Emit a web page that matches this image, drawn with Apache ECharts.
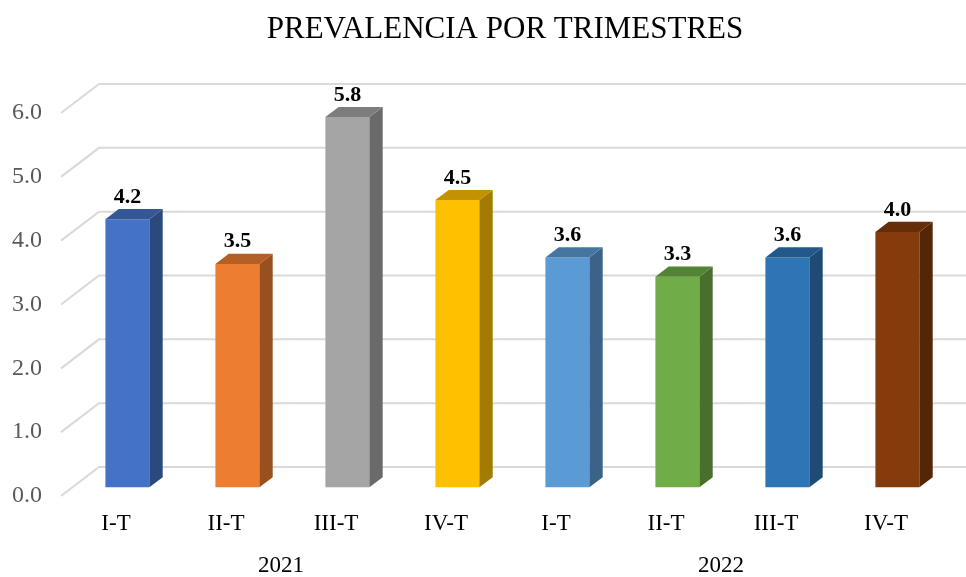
<!DOCTYPE html>
<html lang="es">
<head>
    <meta charset="UTF-8">
    <title>Prevalencia por trimestres</title>
    <style>
        html, body { margin: 0; padding: 0; background: #fff; }
        #main { width: 966px; height: 577px; }
    </style>
</head>
<body>
<div id="main"></div>
<script src="https://cdn.jsdelivr.net/npm/echarts@6/dist/echarts.min.js"></script>
<script>
    // datos del grafico
    var categories = ['I-T', 'II-T', 'III-T', 'IV-T', 'I-T', 'II-T', 'III-T', 'IV-T'];
    var years = ['2021', '2022'];
    var values = [4.2, 3.5, 5.8, 4.5, 3.6, 3.3, 3.6, 4.0];
    var yTicks = [0, 1, 2, 3, 4, 5, 6];
    var barColors = ['#4472C4', '#ED7D31', '#A5A5A5', '#FFC000', '#5B9BD5', '#70AD47', '#2E75B6', '#843C0C'];

    // profundidad del efecto 3D (px)
    var DX = 38, DY = -29;
    var FONT = "'Liberation Serif', 'Times New Roman', serif";

    function shade(hex, f) {
        var n = parseInt(hex.slice(1), 16);
        var r = Math.round(((n >> 16) & 255) * f);
        var g = Math.round(((n >> 8) & 255) * f);
        var b = Math.round((n & 255) * f);
        return 'rgb(' + r + ',' + g + ',' + b + ')';
    }

    var chartDom = document.getElementById('main');
    var myChart = echarts.init(chartDom);
    var option;

    option = {
        animation: false,
        title: {
            text: 'PREVALENCIA POR TRIMESTRES',
            left: 500,
            textAlign: 'center',
            top: 9,
            textStyle: { fontFamily: FONT, fontSize: 31, fontWeight: 'normal', color: '#000' }
        },
        grid: { left: 61, width: 880, top: 113, bottom: 80 },
        xAxis: [
            {
                type: 'category',
                data: categories,
                axisLine: { show: false },
                axisTick: { show: false },
                axisLabel: { fontFamily: FONT, fontSize: 23, color: '#000', margin: 16, interval: 0 }
            },
            {
                type: 'category',
                data: years,
                position: 'bottom',
                offset: 58,
                axisLine: { show: false },
                axisTick: { show: false },
                axisLabel: { fontFamily: FONT, fontSize: 23, color: '#000', margin: 0 }
            }
        ],
        yAxis: {
            type: 'value',
            min: 0,
            max: 6,
            interval: 1,
            splitLine: { show: false },
            axisLine: { show: false },
            axisLabel: {
                fontFamily: FONT, fontSize: 24, color: '#595959', margin: 19,
                padding: [4, 0, 0, 0],
                formatter: function (v) { return v.toFixed(1); }
            }
        },
        series: [
            {
                // lineas de division (pared lateral + fondo)
                type: 'custom',
                z: 1,
                silent: true,
                data: yTicks.map(function (t) { return [0, t]; }),
                renderItem: function (params, api) {
                    var y = api.coord([0, api.value(1)])[1];
                    var x0 = params.coordSys.x;
                    return {
                        type: 'polyline',
                        shape: { points: [[x0, y], [x0 + DX, y + DY], [966, y + DY]] },
                        style: { stroke: '#d9d9d9', lineWidth: 2, fill: null }
                    };
                }
            },
            {
                type: 'custom',
                z: 2,
                data: values.map(function (v, i) { return [i, v]; }),
                renderItem: function (params, api) {
                    var i = api.value(0), v = api.value(1);
                    var base = api.coord([i, 0]);
                    var top = api.coord([i, v]);
                    var w = api.size([1, 0])[0] * 0.4;
                    var fl = base[0] + DX * 0.3 - w / 2;
                    var fb = base[1] + DY * 0.3;
                    var ft = top[1] + DY * 0.3;
                    var dx = DX * 0.35, dy = DY * 0.35;
                    var c = barColors[params.dataIndex];
                    return {
                        type: 'group',
                        children: [
                            {
                                type: 'rect',
                                shape: { x: fl, y: ft, width: w, height: fb - ft },
                                style: { fill: c }
                            },
                            {
                                type: 'polygon',
                                shape: { points: [[fl + w, ft], [fl + w + dx, ft + dy], [fl + w + dx, fb + dy], [fl + w, fb]] },
                                style: { fill: shade(c, 0.64) }
                            },
                            {
                                type: 'polygon',
                                shape: { points: [[fl, ft], [fl + dx, ft + dy], [fl + w + dx, ft + dy], [fl + w, ft]] },
                                style: { fill: shade(c, 0.76) }
                            },
                            {
                                type: 'text',
                                style: {
                                    x: fl + w / 2, y: ft + dy - 1,
                                    text: v.toFixed(1),
                                    align: 'center', verticalAlign: 'bottom',
                                    font: 'bold 22px ' + FONT, fill: '#000'
                                }
                            }
                        ]
                    };
                }
            }
        ]
    };

    option && myChart.setOption(option);
</script>
</body>
</html>
